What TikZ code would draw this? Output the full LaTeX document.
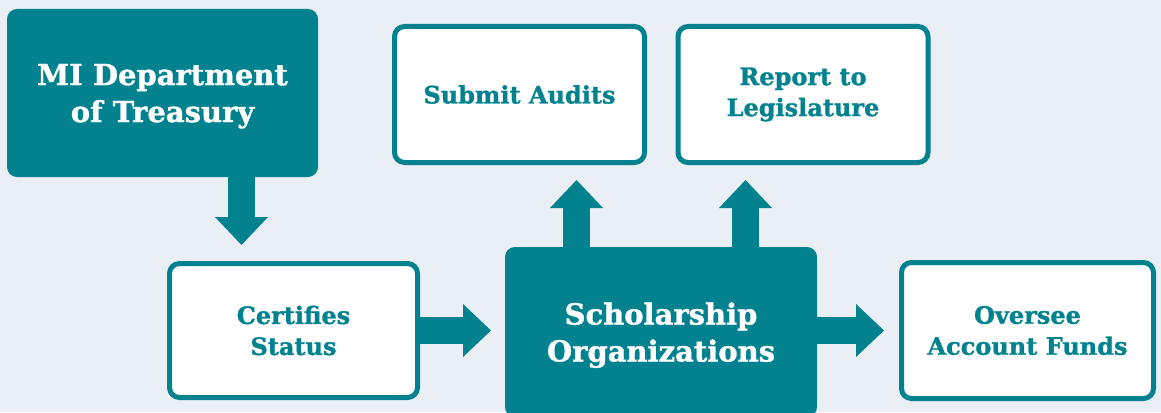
\documentclass[tikz,border=0pt]{standalone}
\usepackage{fontspec}
\setmainfont{DejaVu Serif}[BoldFeatures={FakeBold=1.2}]
\usetikzlibrary{arrows.meta}
\definecolor{tealblue}{HTML}{02828F}
\definecolor{bgblue}{HTML}{E9EFF4}

\begin{document}
\begin{tikzpicture}[x=1pt, y=-1pt,
    dark/.style={fill=tealblue, rounded corners=10, inner sep=0, text=white, align=center,
        text depth=0pt, font=\bfseries\fontsize{29}{37}\selectfont},
    light/.style={draw=tealblue, line width=5, fill=white, rounded corners=10, inner sep=0,
        text=tealblue, align=center, font=\bfseries\fontsize{24}{31}\selectfont},
    flow/.style={draw=tealblue, line width=27pt,
        -{Triangle[width=53pt, length=28pt, line width=0pt]}}]
    \clip (0,0) rectangle (1161,412);
    \fill [bgblue] (0,0) rectangle (1161,412);
    \node [dark, minimum width=311, minimum height=168] at (162.5,93) (mi) {MI Department\\of Treasury};
    \node [dark, minimum width=312, minimum height=170] at (661,332) (sch) {Scholarship\\Organizations};
    \node [light, minimum width=248, minimum height=134] at (293.5,330.5) (cert) {Certifies\\Status};
    \node [light, minimum width=250, minimum height=136] at (519.5,94.5) (audit) {Submit Audits};
    \node [light, minimum width=250, minimum height=136] at (803,94.5) (report) {Report to\\Legislature};
    \node [light, minimum width=252, minimum height=136] at (1027.5,330.5) (funds) {Oversee\\Account Funds};
    \coordinate (t1) at (241.5,245);
    \coordinate (t2) at (576.5,180);
    \coordinate (t3) at (745.5,180);
    \coordinate (t4) at (491,330.5);
    \coordinate (t5) at (884,330.5);
    \path [flow] (mi.south -| t1) -- (t1);
    \path [flow] (sch.north -| t2) -- (t2);
    \path [flow] (sch.north -| t3) -- (t3);
    \path [flow] (cert.east) -- (t4);
    \path [flow] (sch.east |- t5) -- (t5);
\end{tikzpicture}
\end{document}
